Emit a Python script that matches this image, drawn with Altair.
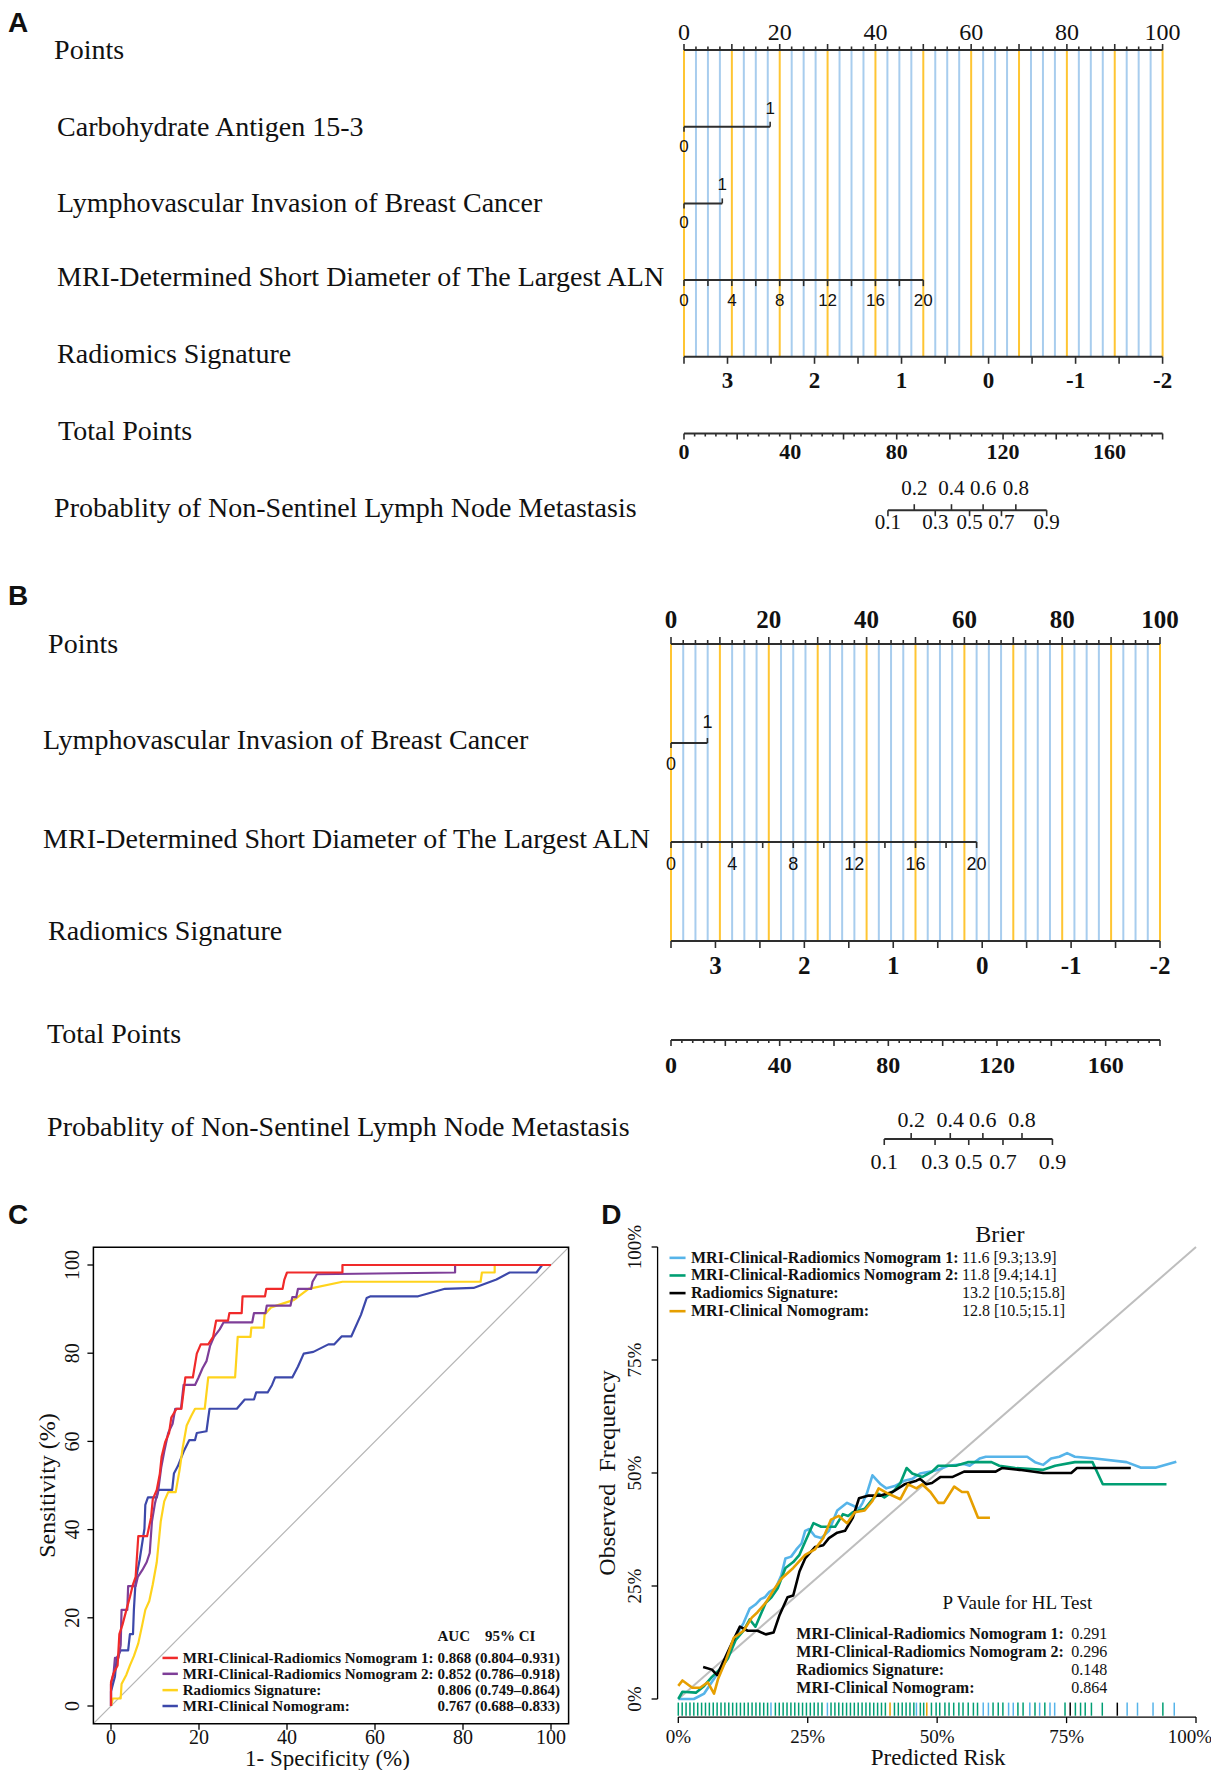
import altair as alt
import pandas as pd

SERIF = "Liberation Serif"
SANS = "Liberation Sans"
INK = "#2e2e2e"
TXT = "#111111"
GRID_ORANGE = "#FFC533"
GRID_BLUE = "#A8CDEE"

# ---------------- nomogram scale values ----------------
POINTS_LABELS = [0, 20, 40, 60, 80, 100]
RAD_LABELS = ["3", "2", "1", "0", "-1", "-2"]
RAD_LABEL_POINTS = [9.09, 27.27, 45.45, 63.64, 81.82, 100.0]
RAD_TICK_POINTS = [0.0, 9.09, 18.18, 27.27, 36.36, 45.45, 54.55, 63.64, 72.73, 81.82, 90.91, 100.0]
TOTAL_LABELS = [0, 40, 80, 120, 160]
TOTAL_MAX = 180
MRI_LABELS = ["0", "4", "8", "12", "16", "20"]
PROB_LABELS = ["0.1", "0.2", "0.3", "0.4", "0.5", "0.6", "0.7", "0.8", "0.9"]

# Panel A
A_ROW_NAMES = ["Points", "Carbohydrate Antigen 15-3", "Lymphovascular Invasion of Breast Cancer",
               "MRI-Determined Short Diameter of The Largest ALN", "Radiomics Signature",
               "Total Points", "Probablity of Non-Sentinel Lymph Node Metastasis"]
A_CA153_POINTS = [0, 18]
A_LVI_POINTS = [0, 8]
A_MRI_MAX_POINTS = 50
A_PROB_TOTAL = [76.7, 86.6, 94.5, 100.6, 107.4, 112.5, 119.4, 124.8, 136.4]

# Panel B
B_ROW_NAMES = ["Points", "Lymphovascular Invasion of Breast Cancer",
               "MRI-Determined Short Diameter of The Largest ALN", "Radiomics Signature",
               "Total Points", "Probablity of Non-Sentinel Lymph Node Metastasis"]
B_LVI_POINTS = [0, 7.45]
B_MRI_MAX_POINTS = 62.5
B_PROB_TOTAL = [78.5, 88.4, 97.2, 102.8, 109.6, 114.8, 122.2, 129.2, 140.4]

# ---------------- Panel C: ROC curves ----------------
ROC_NAMES = ["MRI-Clinical-Radiomics Nomogram 1:", "MRI-Clinical-Radiomics Nomogram 2:",
             "Radiomics Signature:", "MRI-Clinical Nomogram:"]
ROC_AUC = ["0.868 (0.804\u20130.931)", "0.852 (0.786\u20130.918)",
           "0.806 (0.749\u20130.864)", "0.767 (0.688\u20130.833)"]
ROC_COLORS = ["#F02A2A", "#7E3E98", "#FFD31C", "#3C48AA"]

RED_FPR = [0, 0, 0.6, 1.5, 1.9, 2.6, 3.5, 4.3, 5.0, 5.6, 6.2, 8.2, 9.1, 9.5, 10.4, 11.1, 11.5, 12.3, 13.2, 13.7,
           14.9, 16.0, 16.9, 18.6, 19.5, 20.4, 22.1, 23.2, 23.9, 26.6, 26.9, 29.7, 29.9, 35.0, 35.3, 39.0, 39.4,
           40.0, 52.6, 52.6, 100]
RED_TPR = [0, 5.4, 7.5, 9.2, 16.3, 18.4, 21.8, 24.7, 27.6, 29.3, 38.5, 38.5, 42.7, 46.9, 49.0, 52.7, 56.5, 59.8,
           61.9, 65.4, 67.4, 67.4, 74.5, 74.5, 79.9, 82.0, 82.0, 83.7, 87.4, 87.4, 89.1, 89.1, 92.9, 92.9, 94.6,
           94.6, 96.7, 98.3, 98.3, 100, 100]
PURPLE_FPR = [0, 0, 0.6, 0.9, 1.7, 2.2, 2.4, 3.7, 3.9, 5.6, 6.1, 7.1, 8.1, 8.8, 9.3, 10.0, 10.8, 11.4, 12.1, 13.0,
              14.0, 14.6, 15.9, 16.5, 19.1, 19.9, 20.8, 21.7, 22.5, 23.4, 24.7, 25.6, 32.1, 32.5, 35.1, 35.4,
              40.8, 41.2, 42.1, 42.5, 45.5, 45.8, 46.8, 78.2, 78.2, 100]
PURPLE_TPR = [0, 5.0, 7.5, 10.9, 10.9, 13.8, 21.8, 21.8, 27.2, 27.2, 29.3, 30.8, 32.6, 34.7, 41.8, 46.0, 49.4,
              54.0, 57.7, 61.9, 64.0, 67.4, 67.4, 72.8, 72.8, 74.5, 76.6, 78.2, 81.6, 83.7, 85.4, 87.0, 87.0,
              89.1, 89.1, 90.8, 90.8, 92.7, 92.7, 94.6, 94.6, 96.2, 97.9, 98.3, 100, 100]
YELLOW_FPR = [0, 0.4, 2.2, 2.4, 3.5, 4.3, 5.2, 6.2, 7.1, 7.8, 8.7, 9.5, 10.4, 11.3, 12.1, 13.0, 14.7, 15.6, 16.3,
              17.2, 18.2, 19.1, 21.3, 22.1, 28.2, 28.8, 31.7, 31.9, 34.7, 34.9, 36.4, 41.6, 44.9, 52.6, 84.0,
              84.3, 87.2, 87.2, 100]
YELLOW_TPR = [0, 1.7, 1.7, 5.0, 7.1, 9.2, 11.3, 14.2, 18.4, 21.8, 23.8, 27.6, 32.6, 41.8, 46.4, 48.5, 48.5, 53.6,
              58.6, 63.6, 65.7, 67.4, 67.4, 74.5, 74.5, 83.7, 83.7, 85.8, 85.8, 88.7, 90.4, 92.1, 94.6, 96.2,
              96.2, 98.3, 98.3, 100, 100]
BLUE_FPR = [0, 0, 0.9, 1.3, 2.2, 3.9, 4.3, 5.0, 5.2, 5.6, 6.5, 7.6, 7.8, 8.4, 10.4, 10.8, 13.9, 14.3, 15.2, 16.5,
            17.8, 19.1, 19.5, 21.7, 22.1, 22.4, 28.6, 30.4, 32.5, 33.0, 35.6, 36.6, 37.3, 41.2, 42.5, 43.8, 46.0,
            49.4, 50.7, 52.4, 54.6, 56.8, 58.1, 59.0, 69.8, 75.9, 82.4, 87.6, 90.6, 96.7, 98.0, 100]
BLUE_TPR = [0, 3.3, 6.7, 10.9, 12.6, 12.6, 16.3, 16.3, 21.8, 28.5, 33.1, 40.2, 45.6, 47.3, 47.3, 49.0, 49.0, 52.7,
            54.4, 57.7, 60.3, 60.3, 61.9, 62.3, 65.3, 67.4, 67.4, 69.5, 69.5, 71.1, 71.1, 72.8, 74.5, 74.5, 77.0,
            79.9, 80.3, 82.0, 82.0, 83.8, 83.8, 88.7, 92.5, 92.9, 92.9, 94.6, 94.8, 96.7, 98.3, 98.3, 100, 100]
ROC_TICKS = [0, 20, 40, 60, 80, 100]

# ---------------- Panel D: calibration ----------------
CAL_NAMES = ROC_NAMES
CAL_COLORS = ["#56B4E9", "#009E73", "#000000", "#E69F00"]
BRIER = ["11.6 [9.3;13.9]", "11.8 [9.4;14.1]", "13.2 [10.5;15.8]", "12.8 [10.5;15.1]"]
HL_P = ["0.291", "0.296", "0.148", "0.864"]

CAL_BLUE_X = [0, 3, 5, 6.9, 9.2, 11.1, 12.6, 13.8, 14.9, 15.9, 16.7, 17.6, 18.8, 19.9, 20.7, 21.8, 22.8, 23.8,
              24.5, 25.3, 26.4, 27.6, 29.1, 30.7, 32.6, 34.1, 34.9, 35.6, 36.4, 37.5, 39.1, 40.2, 41.8, 43.7,
              45.2, 46.7, 48.7, 50.2, 52.1, 55.2, 56.3, 58.2, 59.4, 67.4, 68.9, 70.5, 72.0, 73.6, 75.1, 76.6,
              80.5, 86.6, 89.3, 92.3, 96.2]
CAL_BLUE_Y = [0, 0, 1.2, 4.5, 8.6, 13.9, 16.8, 20.0, 20.9, 22.1, 22.5, 23.7, 24.5, 27.4, 31.1, 31.5, 33.1, 34.4,
              37.2, 37.6, 36.0, 35.6, 37.2, 41.7, 43.4, 42.6, 42.1, 43.4, 45.4, 49.5, 47.5, 46.6, 47.1, 48.3,
              48.7, 49.9, 50.3, 50.7, 51.6, 52.0, 51.6, 53.2, 53.6, 53.6, 52.4, 51.8, 53.2, 53.6, 54.4, 53.6,
              53.2, 52.4, 51.2, 51.2, 52.5]
CAL_GREEN_X = [0, 0.8, 3.4, 5.0, 6.5, 8.4, 9.6, 11.1, 12.6, 13.8, 14.9, 16.1, 16.9, 18.0, 19.2, 20.7, 22.2, 23.4,
               24.5, 26.1, 27.6, 30.3, 31.8, 32.8, 33.7, 36.0, 37.5, 38.7, 39.8, 41.8, 42.9, 44.1, 45.2, 47.1,
               49.0, 50.2, 53.6, 55.9, 60.5, 62.0, 65.1, 70.5, 72.8, 76.6, 80.0, 82.0, 94.3]
CAL_GREEN_Y = [0, 1.6, 1.4, 2.9, 4.9, 7.0, 9.0, 13.1, 15.1, 17.6, 16.0, 19.2, 21.3, 22.5, 24.5, 29.0, 30.3, 31.9,
               34.8, 38.9, 38.1, 38.1, 40.9, 40.5, 41.3, 42.1, 44.2, 45.4, 44.6, 46.2, 47.8, 51.1, 49.9, 49.1,
               50.3, 51.6, 51.6, 52.4, 52.4, 51.6, 51.1, 50.7, 51.6, 52.4, 52.4, 47.5, 47.5]
CAL_BLACK_X = [4.8, 6.5, 7.5, 10.0, 11.9, 13.4, 15.3, 16.9, 18.4, 19.5, 21.1, 22.2, 23.4, 24.5, 26.4, 28.0, 29.1,
               30.7, 32.2, 33.7, 34.9, 36.8, 39.1, 41.4, 43.7, 46.0, 46.7, 47.9, 49.0, 50.6, 52.9, 55.2, 61.3,
               62.5, 65.9, 70.5, 75.9, 77.0, 87.4]
CAL_BLACK_Y = [7.1, 6.5, 5.3, 11.5, 16.0, 15.1, 15.1, 14.3, 14.7, 18.4, 22.5, 22.9, 28.2, 31.1, 33.6, 34.0, 35.6,
               36.8, 37.2, 40.1, 44.4, 45.0, 45.0, 45.8, 47.5, 48.3, 48.7, 47.5, 47.8, 49.1, 49.1, 50.3, 50.3,
               51.1, 50.7, 50.0, 50.0, 51.1, 51.1]
CAL_ORANGE_X = [0, 0.8, 2.7, 4.2, 5.7, 6.9, 7.7, 9.2, 10.7, 12.6, 14.2, 15.3, 16.9, 18.4, 19.9, 22.2, 24.5, 26.4,
                28.0, 29.5, 31.0, 32.6, 34.1, 36.0, 37.5, 38.7, 40.6, 42.9, 44.4, 46.0, 47.1, 48.7, 50.2, 51.3,
                53.3, 54.8, 55.9, 57.9, 60.2]
CAL_ORANGE_Y = [2.9, 4.1, 2.5, 2.5, 3.7, 1.2, 4.5, 8.6, 13.5, 15.1, 18.0, 19.2, 21.3, 24.1, 26.6, 29.0, 31.9,
                33.1, 35.6, 39.7, 40.5, 38.9, 41.3, 41.7, 43.8, 46.6, 45.4, 44.2, 47.5, 46.6, 47.5, 45.8, 43.4,
                43.4, 47.0, 45.8, 45.8, 40.1, 40.1]
RUG_GREEN = [0.0, 0.75, 1.5, 2.25, 3.0, 3.75, 4.5, 5.25, 6.0, 6.75, 7.5, 8.25, 9.0, 9.75, 10.5, 11.25, 12.0,
             12.75, 13.5, 14.25, 15.0, 15.75, 16.5, 17.25, 18.75, 19.5, 20.25, 21.0, 21.75, 22.5, 23.25, 24.0,
             24.75, 25.5, 26.25, 27.0, 27.75, 29.5, 30.25, 31.0, 31.75, 32.5, 33.25, 34.0, 34.75, 35.5, 36.25,
             37.0, 37.75, 38.5, 39.25, 40.0, 41.75, 42.5, 43.25, 44.0, 44.75, 45.5, 46.75, 47.4, 48.9, 49.8,
             50.5, 51.5, 52.3, 53.2, 54.2, 55.0, 56.0, 57.0, 57.8, 60.8, 61.8, 62.7, 65.6, 66.6, 68.9, 70.8,
             74.7, 76.7, 77.7, 78.6, 79.8, 81.9, 93.6]
RUG_BLUE = [17.9, 28.8, 46.0, 58.9, 59.9, 63.8, 64.7, 67.9, 69.8, 71.8, 72.7, 86.7, 88.7, 91.7, 95.8]
RUG_BLACK = [75.7, 84.8]
RUG_ORANGE = [40.9, 48.0]
CAL_TICKS = [0, 25, 50, 75, 100]
CAL_TICK_LABELS = ["0%", "25%", "50%", "75%", "100%"]

CANVAS_W, CANVAS_H = 1203, 1762


# ---------------- helpers ----------------
class Panel:
    """A group of layers sharing one x and one y scale that maps into a region of the canvas."""

    def __init__(self, xdom, xrange, ydom, yrange):
        self.xs = alt.Scale(domain=xdom, range=xrange, nice=False, zero=False)
        self.ys = alt.Scale(domain=ydom, range=yrange, nice=False, zero=False)
        self.layers = []

    def X(self):
        return alt.X("x:Q", scale=self.xs, axis=None)

    def Y(self):
        return alt.Y("y:Q", scale=self.ys, axis=None)

    def vseg(self, xv, y0, y1, color=INK, sw=1.6):
        xv = list(xv)
        df = pd.DataFrame({"x": xv, "y": [y0] * len(xv), "y2": [y1] * len(xv)})
        self.layers.append(alt.Chart(df).mark_rule(color=color, strokeWidth=sw)
                           .encode(x=self.X(), y=self.Y(), y2="y2:Q"))

    def hseg(self, x0, x1, yv, color=INK, sw=2):
        yv = list(yv) if isinstance(yv, (list, tuple)) else [yv]
        x0 = list(x0) if isinstance(x0, (list, tuple)) else [x0] * len(yv)
        x1 = list(x1) if isinstance(x1, (list, tuple)) else [x1] * len(yv)
        df = pd.DataFrame({"x": x0, "x2": x1, "y": yv})
        self.layers.append(alt.Chart(df).mark_rule(color=color, strokeWidth=sw)
                           .encode(x=self.X(), x2="x2:Q", y=self.Y()))

    def seg(self, x0, y0, x1, y1, color, sw):
        df = pd.DataFrame({"x": [x0], "y": [y0], "x2": [x1], "y2": [y1]})
        self.layers.append(alt.Chart(df).mark_rule(color=color, strokeWidth=sw)
                           .encode(x=self.X(), y=self.Y(), x2="x2:Q", y2="y2:Q"))

    def text(self, xv, yv, tv, **kw):
        tv = [str(t) for t in tv]
        if not isinstance(xv, (list, tuple)):
            xv = [xv] * len(tv)
        if not isinstance(yv, (list, tuple)):
            yv = [yv] * len(tv)
        df = pd.DataFrame({"x": list(xv), "y": list(yv), "t": tv})
        kw.setdefault("baseline", "middle")
        kw.setdefault("align", "center")
        kw.setdefault("color", TXT)
        self.layers.append(alt.Chart(df).mark_text(**kw).encode(x=self.X(), y=self.Y(), text="t:N"))

    def line(self, xv, yv, color, sw):
        df = pd.DataFrame({"x": xv, "y": yv, "i": list(range(len(xv)))})
        self.layers.append(alt.Chart(df).mark_line(color=color, strokeWidth=sw, strokeJoin="round")
                           .encode(x=self.X(), y=self.Y(), order="i:Q"))

    def rect(self, x0, y0, x1, y1):
        df = pd.DataFrame({"x": [x0], "y": [y0], "x2": [x1], "y2": [y1]})
        self.layers.append(alt.Chart(df).mark_rect(fillOpacity=0, stroke="#000000", strokeWidth=1.5)
                           .encode(x=self.X(), y=self.Y(), x2="x2:Q", y2="y2:Q"))

    def chart(self):
        return alt.layer(*self.layers)


def nomogram(letter, names, cfg):
    P = Panel([0, 100], cfg["xrange"], [0, len(names) - 1], cfg["yrange"])
    pr = (cfg["yrange"][1] - cfg["yrange"][0]) / (len(names) - 1)   # pixels per row
    ppx = (cfg["xrange"][1] - cfg["xrange"][0]) / 100.0              # pixels per point
    r = cfg["rows"]
    st = cfg["style"]

    def off(px):
        return px / pr

    # grid lines
    grid = [i * 2.5 for i in range(41)]
    P.vseg([g for g in grid if g % 10 != 0], r["points"], r["rad"], GRID_BLUE, 2)
    P.vseg([g for g in grid if g % 10 == 0], r["points"], r["rad"], GRID_ORANGE, 2)

    # panel letter and row names
    P.text([-cfg["xrange"][0] / ppx], -cfg["letter_top"] / pr, [letter], font=SANS, fontSize=28,
           fontWeight="bold", align="left", baseline="top")
    lx = [cfg["label_x"] + d / ppx for d in cfg["label_dx"]]
    ly = [i + off(d) for i, d in enumerate(cfg["label_dy"])]
    P.text(lx, ly, names, font=SERIF, fontSize=28, align="left")

    # points axis
    y0 = r["points"]
    P.hseg(0, 100, y0)
    P.vseg([g for g in grid if g % 10 == 0], y0, y0 - off(st["pt_major"]))
    P.vseg([g for g in grid if g % 10 != 0], y0, y0 - off(st["pt_minor"]))
    P.text(POINTS_LABELS, y0 - off(st["pt_lab"]), POINTS_LABELS, font=SERIF, fontSize=st["pt_fs"],
           fontWeight=st["pt_fw"])

    # binary rows
    for key, pts in cfg["binary"]:
        yb = r[key]
        P.hseg(pts[0], pts[1], yb)
        P.vseg([pts[0]], yb, yb + off(5))
        P.vseg([pts[1]], yb, yb - off(5))
        P.text([pts[0]], yb + off(st["bin_lab"]), ["0"], font=SANS, fontSize=st["sans_fs"])
        P.text([pts[1]], yb - off(st["bin_lab"] - 2), ["1"], font=SANS, fontSize=st["sans_fs"])

    # MRI diameter
    ym = r["mri"]
    mmax = cfg["mri_max"]
    P.hseg(0, mmax, ym)
    P.vseg([mmax * k / 10 for k in range(11)], ym, ym + off(6))
    P.text([mmax * k / 5 for k in range(6)], ym + off(st["mri_lab"]), MRI_LABELS, font=SANS,
           fontSize=st["sans_fs"])

    # radiomics signature
    yr = r["rad"]
    P.hseg(0, 100, yr)
    P.vseg(RAD_TICK_POINTS, yr, yr + off(7))
    P.text(RAD_LABEL_POINTS, yr + off(st["rad_lab"]), RAD_LABELS, font=SERIF, fontSize=st["rad_fs"],
           fontWeight="bold")

    # total points
    yt = r["total"]
    f = 100.0 / TOTAL_MAX
    P.hseg(0, 100, yt)
    P.vseg([v * f for v in range(0, TOTAL_MAX + 1, 4) if v % 20 != 0], yt, yt + off(3))
    P.vseg([v * f for v in range(0, TOTAL_MAX + 1, 20)], yt, yt + off(6))
    P.text([v * f for v in TOTAL_LABELS], yt + off(st["tot_lab"]), TOTAL_LABELS, font=SERIF,
           fontSize=st["tot_fs"], fontWeight="bold")

    # probability
    yp = r["prob"]
    pos = [v * f for v in cfg["prob_total"]]
    P.hseg(pos[0], pos[-1], yp)
    up = [p for i, p in enumerate(pos) if i % 2 == 1]
    dn = [p for i, p in enumerate(pos) if i % 2 == 0]
    P.vseg(up, yp, yp - off(6))
    P.vseg(dn, yp, yp + off(6))
    P.text(up, yp - off(st["prob_up"]), [l for i, l in enumerate(PROB_LABELS) if i % 2 == 1], font=SERIF,
           fontSize=st["prob_fs"])
    P.text(dn, yp + off(st["prob_dn"]), [l for i, l in enumerate(PROB_LABELS) if i % 2 == 0], font=SERIF,
           fontSize=st["prob_fs"])
    return P.chart()


# canvas coordinates = page coordinates - 8 (page margin)
A_CFG = {
    "xrange": [676.0, 1154.6], "yrange": [42.0, 502.2], "letter_top": 40.0,
    "rows": {"points": 0, "ca": 1, "lvi": 2, "mri": 3, "rad": 4, "total": 5, "prob": 6},
    "label_x": -131.2, "label_dx": [-2, 1, 1, 1, 1, 2, -2], "label_dy": [1, 1, 1, -2, -2, -2, -1],
    "binary": [("ca", A_CA153_POINTS), ("lvi", A_LVI_POINTS)],
    "mri_max": A_MRI_MAX_POINTS, "prob_total": A_PROB_TOTAL,
    "style": {"pt_major": 6, "pt_minor": 3.5, "pt_lab": 17, "pt_fs": 24, "pt_fw": "normal",
              "bin_lab": 20, "sans_fs": 17, "mri_lab": 21, "rad_lab": 24, "rad_fs": 23,
              "tot_lab": 18, "tot_fs": 22, "prob_up": 21, "prob_dn": 13, "prob_fs": 21},
}
B_CFG = {
    "xrange": [663.0, 1152.0], "yrange": [636.0, 1131.0], "letter_top": 61.0,
    "rows": {"points": 0, "lvi": 1, "mri": 2, "rad": 3, "total": 4, "prob": 5},
    "label_x": -127.8, "label_dx": [2, -3, -3, 2, 1, 1], "label_dy": [1, -2, -2, -9, -5, -11],
    "binary": [("lvi", B_LVI_POINTS)],
    "mri_max": B_MRI_MAX_POINTS, "prob_total": B_PROB_TOTAL,
    "style": {"pt_major": 7, "pt_minor": 4, "pt_lab": 24, "pt_fs": 25, "pt_fw": "bold",
              "bin_lab": 22, "sans_fs": 18, "mri_lab": 23, "rad_lab": 25, "rad_fs": 25,
              "tot_lab": 26, "tot_fs": 24, "prob_up": 19, "prob_dn": 23, "prob_fs": 22},
}

panel_a = nomogram("A", A_ROW_NAMES, A_CFG)
panel_b = nomogram("B", B_ROW_NAMES, B_CFG)

# ---------------- Panel C ----------------
C = Panel([0, 100], [103.0, 543.0], [0, 100], [1698.0, 1257.0])
C.seg(-4, -4, 104, 104, "#B5B5B5", 1.2)
C.rect(-4, -4, 104, 104)
C.vseg(ROC_TICKS, -4, -5.36, "#000000", 1.3)
C.hseg(-4, -5.36, ROC_TICKS, "#000000", 1.3)
C.text(ROC_TICKS, -7.26, ROC_TICKS, font=SERIF, fontSize=20)
C.text(-8.6, ROC_TICKS, ROC_TICKS, font=SERIF, fontSize=20, angle=270)
C.text([49.2], -12.0, ["1- Specificity (%)"], font=SERIF, fontSize=23)
C.text([-14.3], 50, ["Sensitivity (%)"], font=SERIF, fontSize=24, angle=270)
C.text([-23.4], 114.3, ["C"], font=SANS, fontSize=28, fontWeight="bold", align="left", baseline="top")
for fx, fy, col in [(BLUE_FPR, BLUE_TPR, ROC_COLORS[3]), (YELLOW_FPR, YELLOW_TPR, ROC_COLORS[2]),
                    (PURPLE_FPR, PURPLE_TPR, ROC_COLORS[1]), (RED_FPR, RED_TPR, ROC_COLORS[0])]:
    C.line(fx, fy, col, 2.2)
leg_y = [10.9, 7.3, 3.6, 0.0]
for yy, col in zip(leg_y, ROC_COLORS):
    C.hseg(11.7, 15.2, yy, col, 2.5)
C.text([16.3] * 4, leg_y, ROC_NAMES, font=SERIF, fontSize=15, fontWeight="bold", align="left")
C.text([74.2] * 4, leg_y, ROC_AUC, font=SERIF, fontSize=15, fontWeight="bold", align="left")
C.text([74.2, 85.0], 15.9, ["AUC", "95% CI"], font=SERIF, fontSize=15, fontWeight="bold", align="left")
panel_c = C.chart()

# ---------------- Panel D ----------------
D = Panel([0, 100], [670.3, 1188.0], [0, 100], [1691.0, 1239.0])
D.seg(0, 0, 100, 100, "#BEBEBE", 2)
for rv, col in [(RUG_BLUE, CAL_COLORS[0]), (RUG_BLACK, CAL_COLORS[2]), (RUG_ORANGE, CAL_COLORS[3]),
                (RUG_GREEN, CAL_COLORS[1])]:
    D.vseg(rv, -0.8, -3.7, col, 1.5)
for xv, yv, col in [(CAL_BLUE_X, CAL_BLUE_Y, CAL_COLORS[0]), (CAL_GREEN_X, CAL_GREEN_Y, CAL_COLORS[1]),
                    (CAL_BLACK_X, CAL_BLACK_Y, CAL_COLORS[2]), (CAL_ORANGE_X, CAL_ORANGE_Y, CAL_COLORS[3])]:
    D.line(xv, yv, col, 2.6)
# axes (R style: lines span the first to the last tick)
D.seg(-4, 0, -4, 100, "#000000", 1.3)
D.seg(0, -4, 100, -4, "#000000", 1.3)
D.hseg(-4, -5.16, CAL_TICKS, "#000000", 1.3)
D.vseg(CAL_TICKS, -4, -5.33, "#000000", 1.3)
D.text(-8.4, CAL_TICKS, CAL_TICK_LABELS, font=SERIF, fontSize=19, angle=270)
D.text(CAL_TICKS[:-1], -8.41, CAL_TICK_LABELS[:-1], font=SERIF, fontSize=19)
D.text(CAL_TICKS[-1:], -8.41, CAL_TICK_LABELS[-1:], font=SERIF, fontSize=19, dx=-6)
D.text([50.2], -13.05, ["Predicted Risk"], font=SERIF, fontSize=23)
D.text([-13.6], 50, ["Observed\u00a0\u00a0Frequency"], font=SERIF, fontSize=24, angle=270)
D.text([-14.9], 110.0, ["D"], font=SANS, fontSize=28, fontWeight="bold", align="left", baseline="top")
# Brier legend
brier_y = [97.6, 93.7, 89.8, 85.8]
for yy, col in zip(brier_y, CAL_COLORS):
    D.hseg(-1.7, 1.4, yy, col, 2.6)
D.text([62.1], 102.7, ["Brier"], font=SERIF, fontSize=24)
D.text([2.45] * 4, brier_y, CAL_NAMES, font=SERIF, fontSize=16, fontWeight="bold", align="left")
D.text([54.8] * 4, brier_y, BRIER, font=SERIF, fontSize=16, align="left")
# HL test
hl_y = [14.3, 10.4, 6.5, 2.5]
D.text([65.5], 21.3, ["P Vaule for HL Test"], font=SERIF, fontSize=19)
D.text([22.8] * 4, hl_y, CAL_NAMES, font=SERIF, fontSize=16, fontWeight="bold", align="left")
D.text([75.9] * 4, hl_y, HL_P, font=SERIF, fontSize=16, align="left")
panel_d = D.chart()

chart = alt.layer(panel_a, panel_b, panel_c, panel_d).resolve_scale(
    x="independent", y="independent"
).properties(
    width=CANVAS_W, height=CANVAS_H, padding=0, autosize=alt.AutoSizeParams(type="none")
).configure_view(stroke=None)

chart.save("out.html", embed_options={"renderer": "svg", "actions": False})
